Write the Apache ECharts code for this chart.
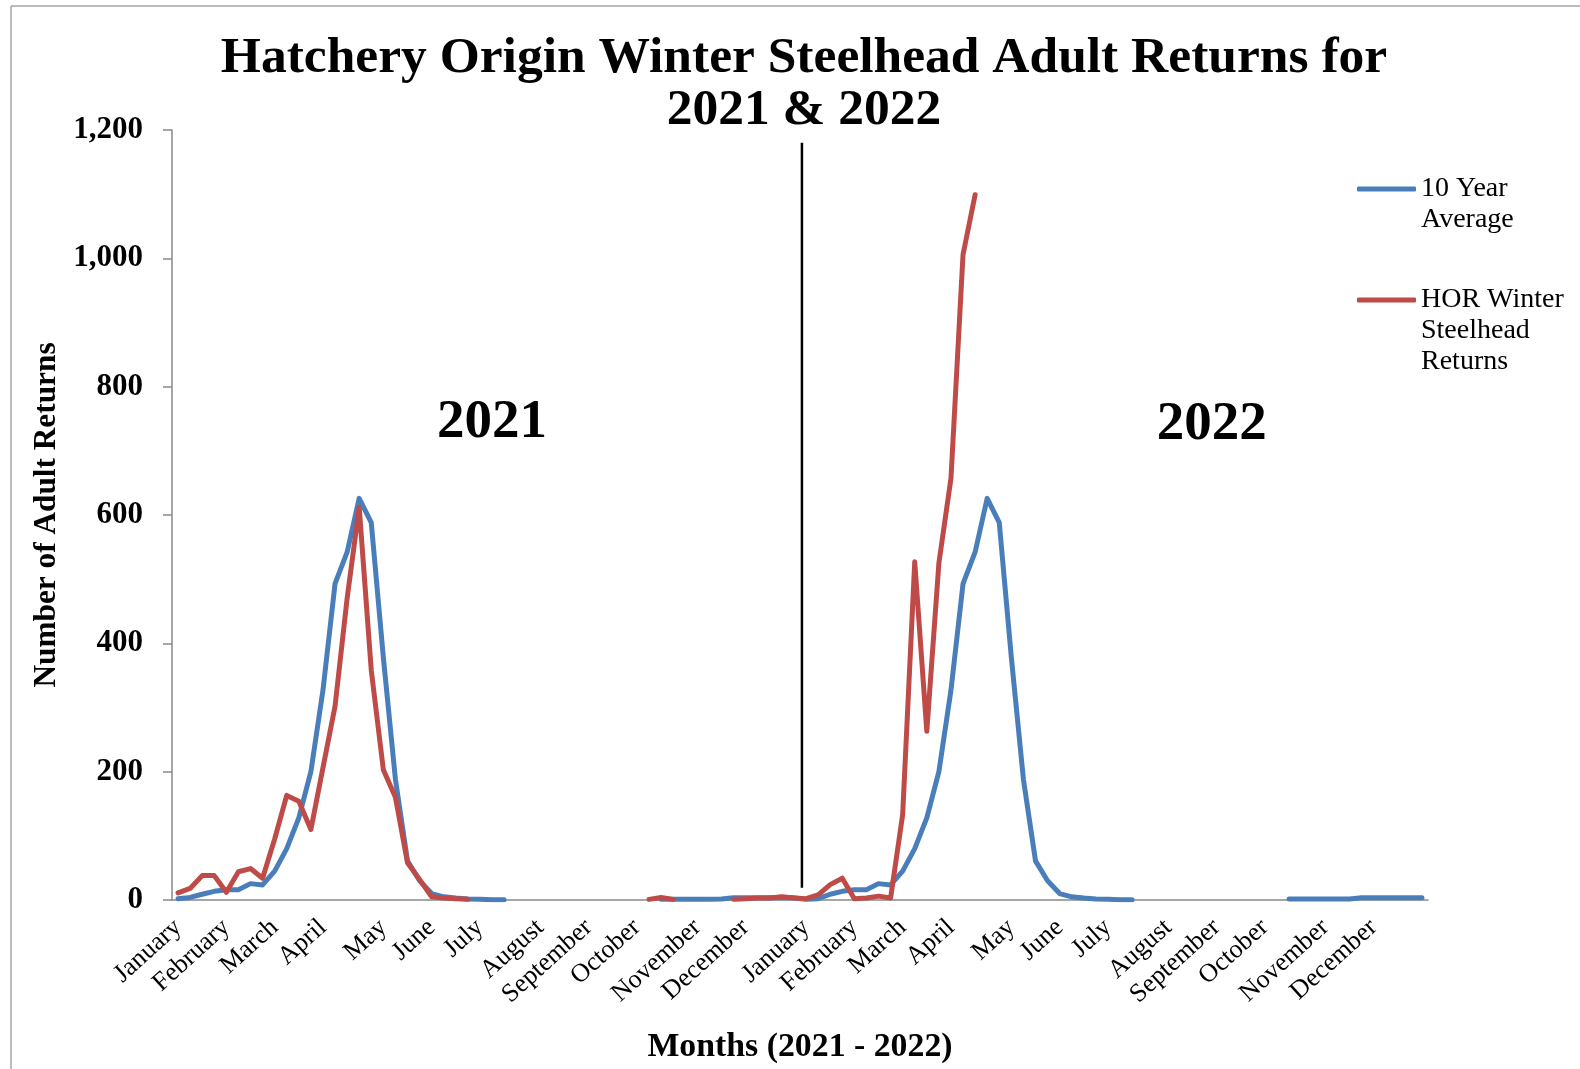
<!DOCTYPE html>
<html><head><meta charset="utf-8">
<script src="https://cdn.jsdelivr.net/npm/echarts@6/dist/echarts.min.js"></script>
<style>html,body{margin:0;padding:0;background:#fff}#c{width:1580px;height:1069px}</style>
</head><body><div id="c"></div>
<script>
// ---- data ----
const monthNames = ['January','February','March','April','May','June','July','August','September','October','November','December'];
// week index (0..103) at which each month label sits, 2021 then 2022
const monthStartWeeks = [0,4,8,12,17,21,25,30,34,38,43,47, 52,56,60,64,69,73,77,82,86,90,95,99];
const weekCount = 104;

// 10 Year Average (weekly), 2021 then 2022
const tenYearAvg2021 = [2,4,9,13.5,16,16,25.5,23.5,45,80,128,200,327,493,542,626,588,378,188,61,30,10,5,3,1.5,1,0.5,0.5,
  null,null,null,null,null,null,null,null,null,null,null,null,
  1,1,1,1,1,1.5,3.5,3.5,3.5,3.5,3.5,3.5];
const tenYearAvg2022 = [1,2,9,13.5,16,16,25.5,23.5,45,80,128,200,327,493,542,626,588,378,188,61,30,10,5,3,1.5,1,0.5,0.5,
  null,null,null,null,null,null,null,null,null,null,null,null,
  1.5,1.5,1.5,1.5,1.5,1.5,3.5,3.5,3.5,3.5,3.5,3.5];

// HOR Winter Steelhead Returns (weekly)
const horReturns = [11,18,38,38,12,44,49,34,95,163,154,110,206,302,470,612,358,203,160,58,32,5,3,2,1,
  null,null,null,null,null,null,null,null,null,null,null,null,null,null,
  1,4,1,
  null,null,null,null,
  1,2,3,3,5,3,2,8,24,34,2,3,6,3,133,527,263,525,657,1006,1099,
  null,null,null,null,null,null,null,null,null,null,null,null,null,null,null,null,null,null,null,
  null,null,null,null,null,null,null,null,null,null,null,null,null,null,null,null,null,null];

const yTicks = {min:0, max:1200, interval:200};
const divider = {week:51.66, top:1180, bottom:19};
const yearLabels = [{text:'2021', week:26, value:743}, {text:'2022', week:85.6, value:740}];

// ---- build ----
const weekLabels = new Array(weekCount).fill('');
monthStartWeeks.forEach((w,j)=>{ weekLabels[w] = monthNames[j%12]; });
const tenYearAvg = tenYearAvg2021.concat(tenYearAvg2022);

const SERIF = "'Liberation Serif', 'Times New Roman', serif";
const chart = echarts.init(document.getElementById('c'), null, {renderer:'canvas'});
const legendText = {fontFamily:SERIF, fontSize:28, lineHeight:31, color:'#000'};
chart.setOption({
  backgroundColor:'#fff',
  animation:false,
  title:{text:'Hatchery Origin Winter Steelhead Adult Returns for\n2021 & 2022', left:799, top:28, textAlign:'center',
    textStyle:{fontFamily:SERIF, fontWeight:'bold', fontSize:51.5, lineHeight:52, color:'#000'}},
  legend:[
    {data:[{name:'10 Year Average', icon:'roundRect'}], left:1357, top:142.5, padding:0, orient:'vertical',
      itemWidth:59, itemHeight:5, formatter:()=> '\n10 Year\nAverage', textStyle:legendText},
    {data:[{name:'HOR Winter Steelhead Returns', icon:'roundRect'}], left:1357, top:222.5, padding:0, orient:'vertical',
      itemWidth:59, itemHeight:5, formatter:()=> '\n\nHOR Winter\nSteelhead\nReturns', textStyle:legendText}
  ],
  grid:{left:172, right:152, top:130, bottom:168},
  xAxis:{type:'category', data:weekLabels, boundaryGap:true,
    axisLine:{lineStyle:{color:'#898989', width:1.5}}, axisTick:{show:false}, splitLine:{show:false},
    axisLabel:{interval:0, rotate:42, margin:24, fontFamily:SERIF, fontSize:26, color:'#000'},
    name:'Months (2021 - 2022)', nameLocation:'middle', nameGap:130,
    nameTextStyle:{fontFamily:SERIF, fontWeight:'bold', fontSize:33.8, color:'#000'}},
  yAxis:{type:'value', min:yTicks.min, max:yTicks.max, interval:yTicks.interval,
    axisLine:{show:true, lineStyle:{color:'#898989', width:1.5}},
    axisTick:{show:true, inside:false, length:9, lineStyle:{color:'#898989', width:1.5}},
    splitLine:{show:false},
    axisLabel:{margin:29, formatter:v=>v.toLocaleString('en-US'), fontFamily:SERIF, fontWeight:'bold', fontSize:31, color:'#000'},
    name:'Number of Adult Returns', nameLocation:'middle', nameRotate:90, nameGap:105,
    nameTextStyle:{fontFamily:SERIF, fontWeight:'bold', fontSize:31.3, color:'#000'}},
  series:[
    {name:'10 Year Average', type:'line', data:tenYearAvg, symbol:'none', connectNulls:false,
      itemStyle:{color:'#4A7EBB'}, lineStyle:{color:'#4A7EBB', width:5, cap:'round', join:'round'}},
    {name:'HOR Winter Steelhead Returns', type:'line', data:horReturns, symbol:'none', connectNulls:false,
      itemStyle:{color:'#BE4B48'}, lineStyle:{color:'#BE4B48', width:5, cap:'round', join:'round'}}
  ]
});

// annotations placed through the axes
function xAt(week){
  const a = Math.floor(week), b = a + 1;
  const pa = chart.convertToPixel({xAxisIndex:0}, a), pb = chart.convertToPixel({xAxisIndex:0}, b);
  return pa + (week - a) * (pb - pa);
}
function yAt(v){ return chart.convertToPixel({yAxisIndex:0}, v); }
const dx = xAt(divider.week);
const graphics = [
  {type:'line', shape:{x1:11, y1:6, x2:11, y2:1069}, style:{stroke:'#a6a6a6', lineWidth:1.5}, silent:true},
  {type:'line', shape:{x1:11, y1:6, x2:1580, y2:6}, style:{stroke:'#a6a6a6', lineWidth:1.5}, silent:true},
  {type:'line', shape:{x1:dx, y1:yAt(divider.top), x2:dx, y2:yAt(divider.bottom)}, style:{stroke:'#000', lineWidth:2.5}, silent:true}
];
yearLabels.forEach(l=>{
  graphics.push({type:'text', x:xAt(l.week), y:yAt(l.value), silent:true,
    style:{text:l.text, fontFamily:SERIF, fontWeight:'bold', fontSize:55, fill:'#000', align:'center', verticalAlign:'middle'}});
});
chart.setOption({graphic:graphics});
</script></body></html>
